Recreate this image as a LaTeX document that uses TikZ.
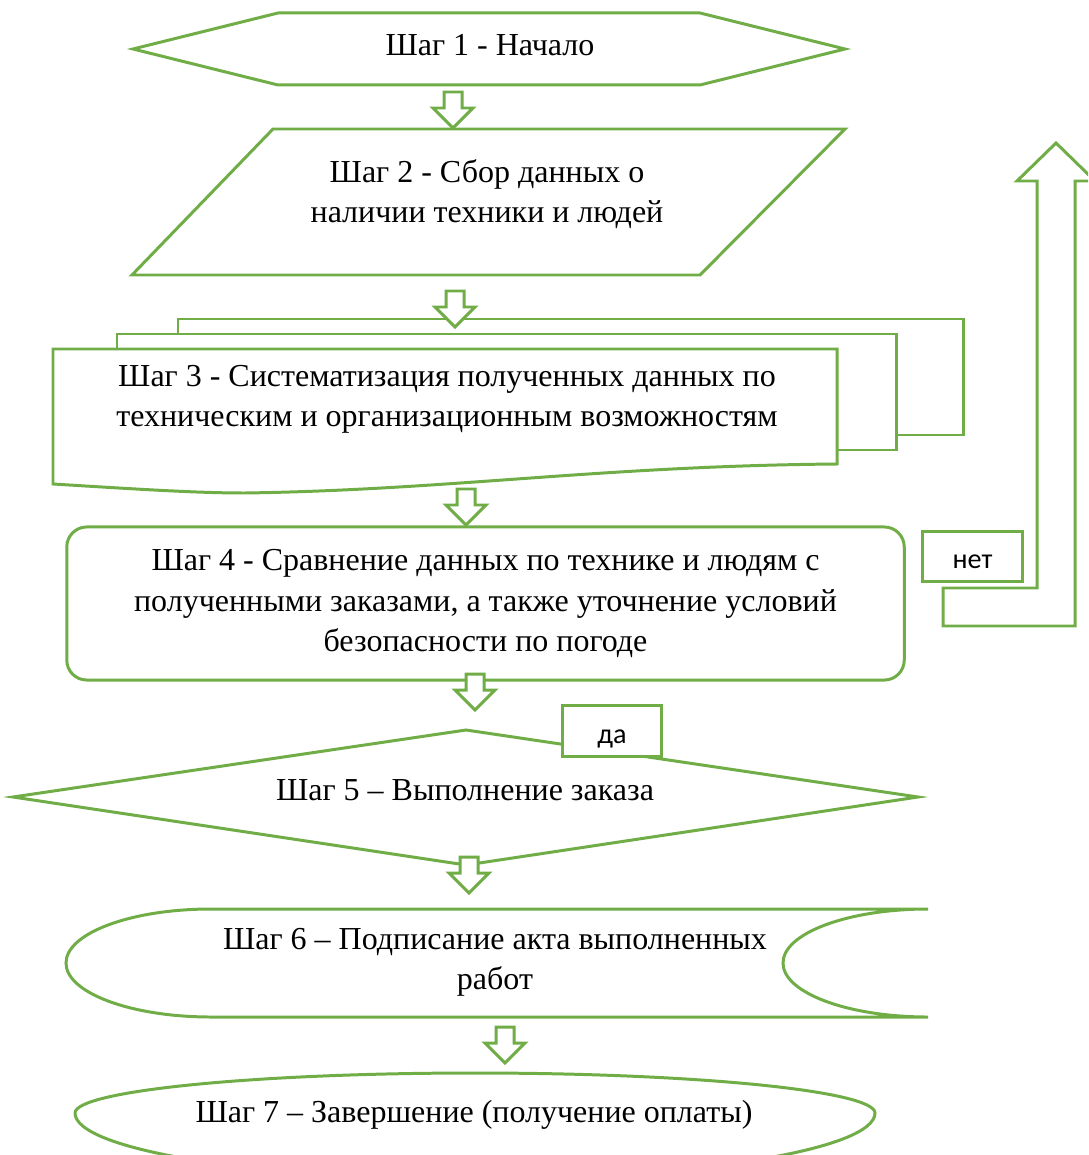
\documentclass[tikz,border=0pt]{standalone}
\usepackage{fontspec}
\setmainfont{Liberation Serif}
\newfontfamily\labelfont{Carlito}
\usepackage{tikz}
\definecolor{stepgreen}{RGB}{112,173,71}

\begin{document}
\begin{tikzpicture}[x=0.01cm, y=-0.01cm,
    shapeline/.style={draw=stepgreen, line width=0.85pt, fill=white},
    steptext/.style={align=center, inner sep=0pt, font=\fontsize{9.1}{11.4}\selectfont},
    answer/.style={shapeline, font=\labelfont\fontsize{8}{10}\selectfont,
      minimum width=0.99cm, minimum height=0.5cm, inner sep=0pt, text height=8pt, text depth=1pt},
    dnarrow/.pic={\draw[shapeline] (-9,-36) -- (9,-36) -- (9,-20) -- (20,-20) -- (0,0)
      -- (-20,-20) -- (-9,-20) -- cycle;}]
  \clip (0,0) rectangle (1088,1155);

  % step 1
  \draw[shapeline] (133,49) -- (278,13) -- (700,13) -- (845,49) -- (700,85) -- (278,85) -- cycle;
  \node[steptext] (s1) at (490,45) {Шаг 1 - Начало};
  \pic at (453,128) {dnarrow};

  % step 2
  \draw[shapeline] (132,275) -- (273,129) -- (845,129) -- (700,275) -- cycle;
  \node[steptext] (s2) at (487,194) {Шаг 2 - Сбор данных о\\наличии техники и людей};

  % step 3
  \draw[shapeline] (178,319) rectangle (963,435);
  \pic at (455,327) {dnarrow};
  \draw[shapeline] (117,334) rectangle (896,450);
  \draw[shapeline] (53,349) -- (837,349) -- (837,464)
    .. controls (600,466) and (450,490) .. (245,493)
    .. controls (200,493) and (150,490) .. (53,484) -- cycle;
  \node[steptext] (s3) at (447,399) {Шаг 3 - Систематизация полученных данных по\\техническим и организационным возможностям};
  \pic at (466,525) {dnarrow};

  % step 4
  \node[shapeline, steptext, rounded corners=0.2cm, minimum width=8.37cm, minimum height=1.53cm]
    (s4) at (485.5,603.5) {Шаг 4 - Сравнение данных по технике и людям с\\полученными заказами, а также уточнение условий\\безопасности по погоде};
  \pic at (475,710) {dnarrow};

  % step 5
  \draw[shapeline] (13,797) -- (466,730) -- (918,797) -- (466,865) -- cycle;
  \node[steptext] (s5) at (465,790) {Шаг 5 – Выполнение заказа};
  \node[answer] (yes) at (612,731) {да};
  \pic at (469,893) {dnarrow};

  % loop back
  \draw[shapeline] (943,588) -- (1037,588) -- (1037,181) -- (1017,181) -- (1056,143)
    -- (1095,181) -- (1075,181) -- (1075,626) -- (943,626) -- cycle;
  \node[answer] (no) at (972.5,556.5) {нет};

  % step 6
  \draw[shapeline] (211,909) -- (928,909) arc[start angle=270, end angle=90, x radius=145, y radius=54]
    -- (211,1017) arc[start angle=90, end angle=270, x radius=145, y radius=54] -- cycle;
  \node[steptext] (s6) at (495,962) {Шаг 6 – Подписание акта выполненных\\работ};
  \pic at (505,1063) {dnarrow};

  % step 7
  \draw[shapeline] (75,1113) arc[start angle=180, end angle=360, x radius=400, y radius=40]
    arc[start angle=0, end angle=180, x radius=400, y radius=66];
  \node[steptext] (s7) at (474,1115) {Шаг 7 – Завершение (получение оплаты)};
\end{tikzpicture}
\end{document}
